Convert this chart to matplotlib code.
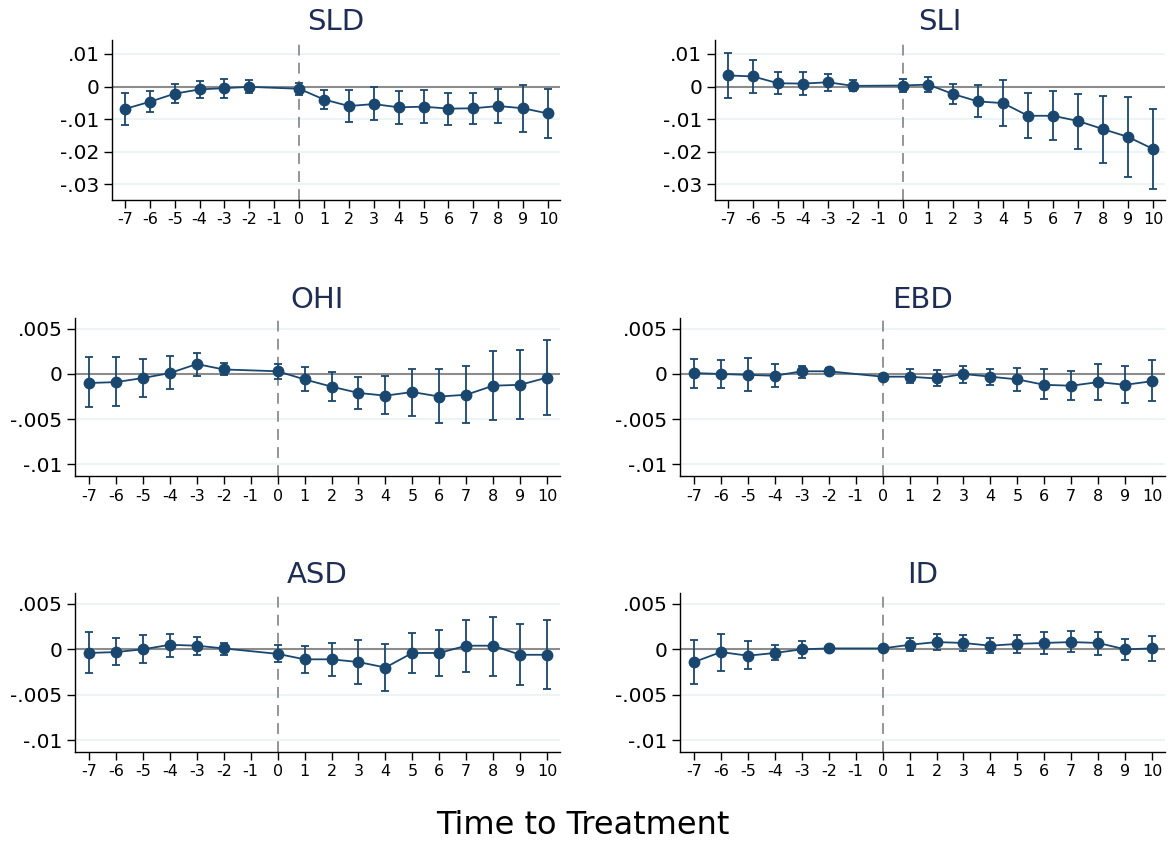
import numpy as np
import matplotlib.pyplot as plt

# event time (no estimate at -1, the reference period)
periods = [-7, -6, -5, -4, -3, -2, 0, 1, 2, 3, 4, 5, 6, 7, 8, 9, 10]
xticks = list(range(-7, 11))

sld_b = [-0.0069, -0.0047, -0.0022, -0.0009, -0.0005, -0.0001, -0.0007, -0.0040, -0.0060, -0.0054,
         -0.0064, -0.0062, -0.0068, -0.0067, -0.0060, -0.0067, -0.0083]
sld_hi = [-0.0020, -0.0015, 0.0008, 0.0018, 0.0024, 0.0020, 0.0012, -0.0012, -0.0012, -0.0003,
          -0.0015, -0.0011, -0.0019, -0.0021, -0.0008, 0.0006, -0.0009]
sld_lo = [-0.0119, -0.0078, -0.0050, -0.0036, -0.0035, -0.0021, -0.0026, -0.0069, -0.0108, -0.0104,
          -0.0114, -0.0112, -0.0119, -0.0114, -0.0112, -0.0141, -0.0157]

sli_b = [0.0034, 0.0031, 0.0010, 0.0009, 0.0013, 0.0002, 0.0003, 0.0006, -0.0023, -0.0046,
         -0.0051, -0.0090, -0.0090, -0.0106, -0.0131, -0.0155, -0.0192]
sli_hi = [0.0104, 0.0083, 0.0045, 0.0046, 0.0038, 0.0020, 0.0023, 0.0029, 0.0007, 0.0006,
          0.0021, -0.0020, -0.0014, -0.0023, -0.0030, -0.0033, -0.0069]
sli_lo = [-0.0034, -0.0021, -0.0024, -0.0027, -0.0015, -0.0014, -0.0016, -0.0018, -0.0055, -0.0095,
          -0.0120, -0.0157, -0.0166, -0.0191, -0.0235, -0.0279, -0.0316]

ohi_b = [-0.0010, -0.0009, -0.00045, 0.0001, 0.0011, 0.0005, 0.0003, -0.0006, -0.0014, -0.0021,
         -0.0024, -0.0020, -0.0025, -0.0023, -0.0013, -0.0012, -0.0004]
ohi_hi = [0.0019, 0.0019, 0.0017, 0.0020, 0.0023, 0.0012, 0.0011, 0.0008, 0.0002, -0.0003,
          -0.00025, 0.0006, 0.0005, 0.0009, 0.0025, 0.0027, 0.0038]
ohi_lo = [-0.0037, -0.0036, -0.0026, -0.0017, -0.0002, -0.00015, -0.0006, -0.0019, -0.0030, -0.0039,
          -0.0044, -0.0046, -0.0054, -0.0054, -0.0051, -0.0050, -0.0045]

ebd_b = [0.0001, 0.0000, -0.0001, -0.0002, 0.0003, 0.0003, -0.0003, -0.0003, -0.0005, 0.0000,
         -0.0003, -0.0006, -0.0012, -0.0013, -0.0009, -0.0012, -0.0008]
ebd_hi = [0.0017, 0.0016, 0.0018, 0.0011, 0.0009, 0.0007, 0.0000, 0.0005, 0.0004, 0.0009,
          0.0006, 0.0007, 0.0005, 0.0003, 0.0011, 0.0009, 0.0015]
ebd_lo = [-0.0016, -0.0016, -0.0019, -0.0014, -0.0004, 0.0000, -0.0007, -0.0010, -0.0013, -0.0010,
          -0.0012, -0.0019, -0.0028, -0.0029, -0.0029, -0.0032, -0.0030]

asd_b = [-0.0004, -0.0003, 0.0000, 0.0005, 0.0004, 0.0001, -0.0005, -0.0011, -0.0011, -0.0014,
         -0.0020, -0.0004, -0.0004, 0.0004, 0.0004, -0.0006, -0.0006]
asd_hi = [0.0019, 0.0013, 0.0016, 0.0017, 0.0014, 0.0007, 0.0005, 0.0004, 0.0007, 0.0010,
          0.0006, 0.0018, 0.0021, 0.0032, 0.0036, 0.0028, 0.0032]
asd_lo = [-0.0026, -0.0017, -0.0015, -0.0008, -0.0006, -0.0006, -0.0014, -0.0026, -0.0029, -0.0038,
          -0.0046, -0.0026, -0.0029, -0.0025, -0.0029, -0.0039, -0.0044]

id_b = [-0.0014, -0.0003, -0.0007, -0.0004, 0.0000, 0.0001, 0.0001, 0.0005, 0.0008, 0.0007,
        0.0004, 0.0006, 0.0007, 0.0008, 0.0007, 0.0000, 0.0001]
id_hi = [0.0010, 0.0017, 0.0009, 0.0005, 0.0009, 0.0003, 0.0004, 0.0012, 0.0017, 0.0016,
         0.0012, 0.0016, 0.0019, 0.0020, 0.0019, 0.0011, 0.0015]
id_lo = [-0.0038, -0.0024, -0.0022, -0.0012, -0.0010, -0.0001, -0.0002, -0.0002, -0.0001, -0.0002,
         -0.0004, -0.0004, -0.0005, -0.0003, -0.0006, -0.0012, -0.0013]

big_ticks = [0.01, 0, -0.01, -0.02, -0.03]
big_labels = [".01", "0", "-.01", "-.02", "-.03"]
small_ticks = [0.005, 0, -0.005, -0.01]
small_labels = [".005", "0", "-.005", "-.01"]

navy = "#1a476f"
title_col = "#1e2d53"

fig = plt.figure(figsize=(11.69, 8.41), dpi=100)
W, H = 1169.0, 841.0

def add_ax(l, r, t, b):
    return fig.add_axes([l / W, 1 - b / H, (r - l) / W, (b - t) / H])

panels = [
    ("SLD", sld_b, sld_lo, sld_hi, add_ax(112, 560, 40, 200), "big"),
    ("SLI", sli_b, sli_lo, sli_hi, add_ax(715, 1165, 40, 200), "big"),
    ("OHI", ohi_b, ohi_lo, ohi_hi, add_ax(75, 560, 318, 476), "small"),
    ("EBD", ebd_b, ebd_lo, ebd_hi, add_ax(680, 1165, 318, 476), "small"),
    ("ASD", asd_b, asd_lo, asd_hi, add_ax(75, 560, 593, 752), "small"),
    ("ID", id_b, id_lo, id_hi, add_ax(680, 1165, 593, 752), "small"),
]

for name, b, lo, hi, ax, kind in panels:
    b = np.array(b); lo = np.array(lo); hi = np.array(hi)
    if kind == "big":
        ticks, labels, ylim = big_ticks, big_labels, (-0.0349, 0.0143)
    else:
        ticks, labels, ylim = small_ticks, small_labels, (-0.0113, 0.0062)
    for t in ticks:
        if t != 0:
            ax.axhline(t, color="#eaf2f3", lw=1.2, zorder=0)
    ax.axhline(0, color="#8c8c8c", lw=1.5, zorder=1)
    ax.axvline(0, color="#8c8c8c", lw=1.3, ls=(0, (6, 4)), zorder=1)
    ax.errorbar(periods, b, yerr=[b - lo, hi - b], fmt="-o", color=navy, ecolor=navy,
                elinewidth=1.3, capsize=3, capthick=1.3, markersize=7.5, lw=1.3, zorder=3)
    ax.set_xlim(-7.52, 10.48)
    ax.set_ylim(*ylim)
    ax.set_xticks(xticks)
    ax.set_xticklabels([str(x) for x in xticks], fontsize=11.5)
    ax.set_yticks(ticks)
    ax.set_yticklabels(labels, fontsize=14.5)
    ax.tick_params(axis="y", length=6, width=1, pad=3)
    ax.tick_params(axis="x", length=6, width=1, pad=3)
    for s in ["top", "right"]:
        ax.spines[s].set_visible(False)
    for s in ["left", "bottom"]:
        ax.spines[s].set_color("black")
        ax.spines[s].set_linewidth(1)
    ax.set_title(name, fontsize=21, color=title_col, pad=7)

fig.text(583 / W, 1 - 825 / H, "Time to Treatment", fontsize=23, ha="center", va="center")

fig.savefig("out.png", dpi=100)
